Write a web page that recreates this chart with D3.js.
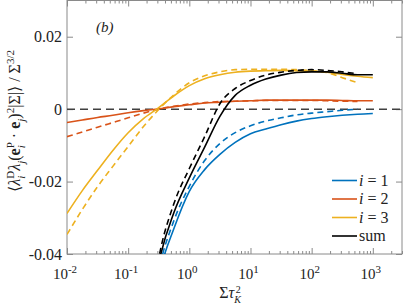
<!DOCTYPE html>
<html>
<head>
<meta charset="utf-8">
<script src="https://cdn.jsdelivr.net/npm/d3@7"></script>
<style>
body { margin: 0; background: #fff; }
</style>
</head>
<body>
<div id="chart"></div>
<script>
// x grid (sum of tau_K^2), shared by all series
var xVals = [0.01, 0.0178, 0.0316, 0.0562, 0.1, 0.178, 0.316, 0.562, 1, 1.78, 3.16,
             5.62, 10, 17.8, 31.6, 56.2, 100, 178, 316, 562, 1000];

// solid = full model, dashed = approximation (dashed stop at 562)
var blueSolid   = [null, null, null, null, null, -0.07, -0.0459, -0.0329, -0.0227, -0.0167, -0.0125,
                   -0.0092, -0.0068, -0.0055, -0.0043, -0.0033, -0.0026, -0.0021, -0.0017, -0.0014, -0.0012];
var blueDashed  = [null, null, null, null, null, -0.07, -0.0445, -0.0307, -0.0213, -0.0142, -0.0095,
                   -0.0065, -0.0046, -0.0033, -0.0024, -0.0016, -0.0011, -0.0007, -0.0003, 0.0000];
var redSolid    = [-0.0037, -0.0030, -0.0023, -0.0017, -0.0010, -0.0004, 0.0001, 0.0007, 0.0012, 0.0017, 0.0019,
                   0.0022, 0.0023, 0.0025, 0.0025, 0.0025, 0.0025, 0.0025, 0.0024, 0.0023, 0.0023];
var redDashed   = [-0.0076, -0.0063, -0.0050, -0.0037, -0.0024, -0.0011, 0.0000, 0.0008, 0.0014, 0.0018, 0.0021,
                   0.0022, 0.0023, 0.0024, 0.0024, 0.0024, 0.0024, 0.0023, 0.0022, 0.0021];
var yellowSolid = [-0.0288, -0.0225, -0.0169, -0.0114, -0.0065, -0.0026, 0.0004, 0.0037, 0.0065, 0.0084, 0.0095,
                   0.0102, 0.0105, 0.0106, 0.0107, 0.0106, 0.0105, 0.0102, 0.0096, 0.0091, 0.0087];
var yellowDashed= [-0.0346, -0.0277, -0.0214, -0.0158, -0.0103, -0.0048, -0.0001, 0.0040, 0.0073, 0.0092, 0.0103,
                   0.0109, 0.0110, 0.0110, 0.0110, 0.0109, 0.0106, 0.0101, 0.0087, 0.0073];
var sumSolid    = [null, null, null, null, null, -0.07, -0.0426, -0.0285, -0.0190, -0.0105, -0.0020,
                   0.0038, 0.0066, 0.0083, 0.0094, 0.0101, 0.0103, 0.0103, 0.0099, 0.0095, 0.0095];
var sumDashed   = [null, null, null, null, null, -0.07, -0.0412, -0.0260, -0.0164, -0.0076, 0.0015,
                   0.0057, 0.0079, 0.0094, 0.0102, 0.0107, 0.0109, 0.0107, 0.0103, 0.0098];

var xMajor = [0.01, 0.1, 1, 10, 100, 1000];
var xExp = ["-2", "-1", "0", "1", "2", "3"];
var yTicks = [-0.04, -0.02, 0, 0.02];
var yTickLabels = ["-0.04", "-0.02", "0", "0.02"];
var legendNames = ["1", "2", "3", "sum"];

var serif = "'Liberation Serif', 'Times New Roman', Tinos, 'DejaVu Serif', serif";

// append text pieces with sub/superscripts as tspans
function rich(txt, parts, supSize, supUp){
    var shift = 0;
    parts.forEach(function(p){
        var want = p.s == "sub" ? 5 : (p.s == "sup" ? -(supUp || 6) : 0);
        var t = txt.append("tspan").text(p.t).attr("dy", want - shift);
        if (p.dx) t.attr("dx", p.dx);
        if (p.s) t.attr("font-size", (supSize || 11) + "px");
        if (p.it) t.attr("font-style", "italic");
        if (p.b) t.attr("font-weight", "bold");
        shift = want;
    });
}

function base(){
    var w = 403, h = 307;
    var left = 67, right = 402, top = 0.5, bottom = 254;

    var svg = d3.select("#chart").append("svg")
        .attr("width", w).attr("height", h)
        .attr("font-family", serif);

    var x = d3.scaleLog().domain([0.01, 3000]).range([left, right]);
    var y = d3.scaleLinear().domain([-0.04, 0.03]).range([bottom, top]);

    svg.append("clipPath").attr("id", "clip")
        .append("rect").attr("x", left).attr("y", top)
        .attr("width", right - left).attr("height", bottom - top);

    // minor log ticks
    var minor = [];
    for (var d = 0.01; d < 3000; d *= 10)
        for (var m = 2; m <= 9; m++) if (d * m <= 3000) minor.push(d * m);

    var tickCol = "#8a8a8a";
    function styleAxis(g){
        g.attr("font-family", serif);
        g.select(".domain").remove();
        g.selectAll("line").attr("stroke", tickCol);
    }
    svg.append("g").attr("transform", "translate(0," + bottom + ")")
        .call(d3.axisBottom(x).tickValues(xMajor).tickSize(-6).tickFormat("")).call(styleAxis);
    svg.append("g").attr("transform", "translate(0," + bottom + ")")
        .call(d3.axisBottom(x).tickValues(minor).tickSize(-3).tickFormat("")).call(styleAxis);
    svg.append("g").attr("transform", "translate(0," + top + ")")
        .call(d3.axisTop(x).tickValues(xMajor).tickSize(-6).tickFormat("")).call(styleAxis);
    svg.append("g").attr("transform", "translate(0," + top + ")")
        .call(d3.axisTop(x).tickValues(minor).tickSize(-3).tickFormat("")).call(styleAxis);
    svg.append("g").attr("transform", "translate(" + right + ",0)")
        .call(d3.axisRight(y).tickValues(yTicks).tickSize(-6).tickFormat("")).call(styleAxis);

    var yAxis = svg.append("g").attr("transform", "translate(" + left + ",0)")
        .call(d3.axisLeft(y).tickValues(yTicks).tickSize(-6).tickPadding(5)
            .tickFormat(function(d, i){ return yTickLabels[i]; }))
        .call(styleAxis);
    yAxis.attr("font-size", 16);
    yAxis.selectAll("text").attr("fill", "#222");

    // frame
    svg.append("rect").attr("x", left).attr("y", top)
        .attr("width", right - left).attr("height", bottom - top)
        .attr("fill", "none").attr("stroke", tickCol).attr("stroke-width", 1);

    // x tick labels 10^n
    xMajor.forEach(function(v, i){
        var t = svg.append("text").attr("x", x(v) - 2).attr("y", 279)
            .attr("text-anchor", "middle").attr("font-size", "15px").attr("fill", "#222");
        rich(t, [{t: "10"}, {t: xExp[i], s: "sup"}]);
    });

    // axis titles
    var xt = svg.append("text").attr("x", 230).attr("y", 298)
        .attr("text-anchor", "middle").attr("font-size", "16px").attr("fill", "#222");
    rich(xt, [{t: "Σ"}, {t: "τ", it: 1}, {t: "K", it: 1, s: "sub"}, {t: "2", s: "sup", dx: -5}], 10, 5);

    var yt = svg.append("text").attr("transform", "translate(20,121) rotate(-90)")
        .attr("text-anchor", "middle").attr("font-size", "16px").attr("fill", "#222");
    rich(yt, [{t: "⟨"}, {t: "λ", it: 1}, {t: "i", it: 1, s: "sub"}, {t: "D", s: "sup", dx: -3},
              {t: "λ", it: 1}, {t: "j", it: 1, s: "sub"}, {t: "("}, {t: "e", b: 1},
              {t: "i", it: 1, s: "sub"}, {t: "P", s: "sup", dx: -3}, {t: " · "}, {t: "e", b: 1},
              {t: "j", it: 1, s: "sub"}, {t: ")"}, {t: "2", s: "sup"}, {t: "|Σ|⟩ / Σ"},
              {t: "3/2", s: "sup"}]);

    svg.append("text").attr("x", 96).attr("y", 32).attr("font-size", "15px").attr("fill", "#222")
        .attr("font-style", "italic").text("(b)");

    // zero line
    svg.append("line").attr("x1", left).attr("x2", right)
        .attr("y1", y(0)).attr("y2", y(0))
        .attr("stroke", "#404040").attr("stroke-width", 1.5)
        .attr("stroke-dasharray", "8,5");

    var series = [
        {v: blueSolid, c: "#0072BD", dash: null},
        {v: blueDashed, c: "#0072BD", dash: "6,4"},
        {v: redSolid, c: "#D95319", dash: null},
        {v: redDashed, c: "#D95319", dash: "6,4"},
        {v: yellowSolid, c: "#EDB120", dash: null},
        {v: yellowDashed, c: "#EDB120", dash: "6,4"},
        {v: sumSolid, c: "#000000", dash: null},
        {v: sumDashed, c: "#000000", dash: "6,4"}
    ];

    var line = d3.line()
        .defined(function(d){ return d[1] != null; })
        .x(function(d){ return x(d[0]); })
        .y(function(d){ return y(d[1]); })
        .curve(d3.curveMonotoneX);

    var plot = svg.append("g").attr("clip-path", "url(#clip)");
    plot.selectAll("path").data(series).enter().append("path")
        .attr("d", function(s){
            return line(s.v.map(function(v, i){ return [xVals[i], v]; }));
        })
        .attr("fill", "none")
        .attr("stroke", function(s){ return s.c; })
        .attr("stroke-width", 1.6)
        .attr("stroke-dasharray", function(s){ return s.dash; });

    // legend
    var cols = ["#0072BD", "#D95319", "#EDB120", "#000000"];
    var rows = [180.5, 199, 217.5, 236];
    legendNames.forEach(function(n, i){
        svg.append("line").attr("x1", 332).attr("x2", 357)
            .attr("y1", rows[i]).attr("y2", rows[i])
            .attr("stroke", cols[i]).attr("stroke-width", 1.6);
        var t = svg.append("text").attr("x", 359).attr("y", rows[i] + 5)
            .attr("font-size", "16px").attr("fill", "#222");
        if (n == "sum") t.text("sum");
        else rich(t, [{t: "i", it: 1}, {t: " = " + n}]);
    });
}

window.onload = base;
</script>
</body>
</html>
